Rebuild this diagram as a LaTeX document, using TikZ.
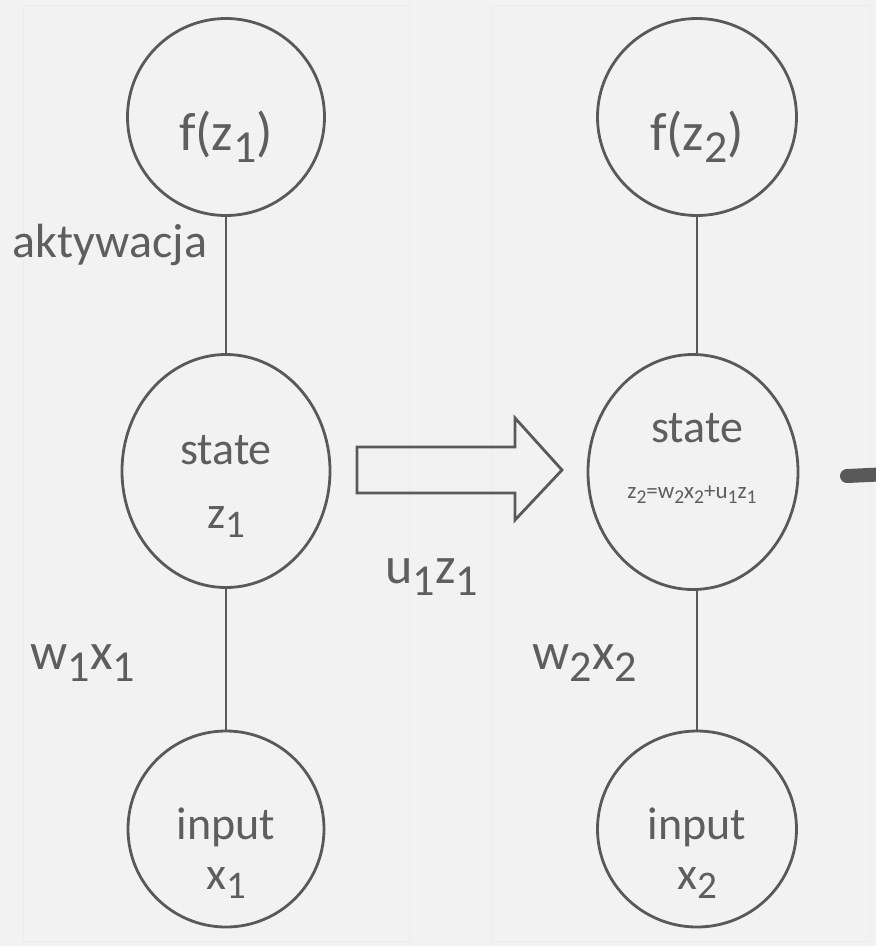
\documentclass[tikz,border=0pt]{standalone}
\usepackage{fontspec}
\setmainfont{Carlito}
\usetikzlibrary{shapes.geometric}
\definecolor{ink}{HTML}{595959}
\definecolor{txt}{HTML}{5E5E5E}
\definecolor{paper}{HTML}{F2F2F2}
\definecolor{frame}{HTML}{ECECEC}
% lowered, reduced index digit
\newcommand\lowidx[1]{\raisebox{-.45ex}{\scalebox{.85}{#1}}}

\begin{document}
\begin{tikzpicture}[x=1pt,y=-1pt,
  unit/.style={draw=ink, line width=2.8pt, ellipse, inner sep=0pt},
  wire/.style={draw=ink, line width=2.8pt},
  lbl/.style={text=txt, inner sep=0pt, font=\fontsize{46}{50}\selectfont},
  flbl/.style={lbl, font=\fontsize{54}{58}\selectfont},
  wlbl/.style={lbl, font=\fontsize{52}{56}\selectfont},
  tiny/.style={text=txt, inner sep=0pt, font=\fontsize{23}{26}\selectfont},
  panel/.style={draw=frame, line width=0.8pt}]

% canvas
\fill[paper] (0,0) rectangle (876,946);
\useasboundingbox (0,0) rectangle (876,946);
\draw[panel] (23,5) rectangle (409,941);
\draw[panel] (491,5) rectangle (870,941);

% first time step
\node[unit, minimum width=197pt, minimum height=197pt] (f1) at (226,117) {};
\node[unit, minimum width=208pt, minimum height=233pt] (s1) at (226,471) {};
\node[unit, minimum width=196pt, minimum height=196pt] (i1) at (226,829) {};
\draw[wire] (f1.south) -- (s1.north);
\draw[wire] (s1.south) -- (i1.north);

\node[flbl] (f1t) at (226,137) {f(z\lowidx{1})};
\node[lbl] (s1a) at (226,450) {state};
\node[lbl] (s1b) at (226,522) {z\lowidx{1}};
\node[lbl] (i1a) at (226,827) {input};
\node[lbl] (i1b) at (226,883) {x\lowidx{1}};
\node[lbl, font=\fontsize{48}{52}\selectfont] (act) at (110,245) {aktywacja};
\node[wlbl] (w1) at (83,663) {w\lowidx{1}x\lowidx{1}};

% second time step
\node[unit, minimum width=199pt, minimum height=197pt] (f2) at (697,117) {};
\node[unit, minimum width=210pt, minimum height=235pt] (s2) at (693,472) {};
\node[unit, minimum width=199pt, minimum height=196pt] (i2) at (697,829) {};
\draw[wire] (f2.south) -- (f2.south |- s2.north);
\draw[wire] (i2.north |- s2.south) -- (i2.north);

\node[flbl] (f2t) at (697,137) {f(z\lowidx{2})};
\node[lbl] (s2a) at (697,428) {state};
\node[tiny] (s2b) at (692,495) {z\lowidx{2}=w\lowidx{2}x\lowidx{2}+u\lowidx{1}z\lowidx{1}};
\node[lbl] (i2a) at (697,827) {input};
\node[lbl] (i2b) at (697,883) {x\lowidx{2}};
\node[wlbl] (w2) at (585,663) {w\lowidx{2}x\lowidx{2}};

% recurrent transfer arrow
\draw[draw=ink, line width=2.8pt, line join=miter]
  (357,447) -- (515,447) -- (515,418) -- (562,470) -- (515,520)
  -- (515,493) -- (357,493) -- cycle;
\node[wlbl] (u1) at (432,577) {u\lowidx{1}z\lowidx{1}};

% start of the next step's arrow
\draw[ink, line width=14pt, line cap=round] (847,476) -- (890,474);
\end{tikzpicture}
\end{document}
